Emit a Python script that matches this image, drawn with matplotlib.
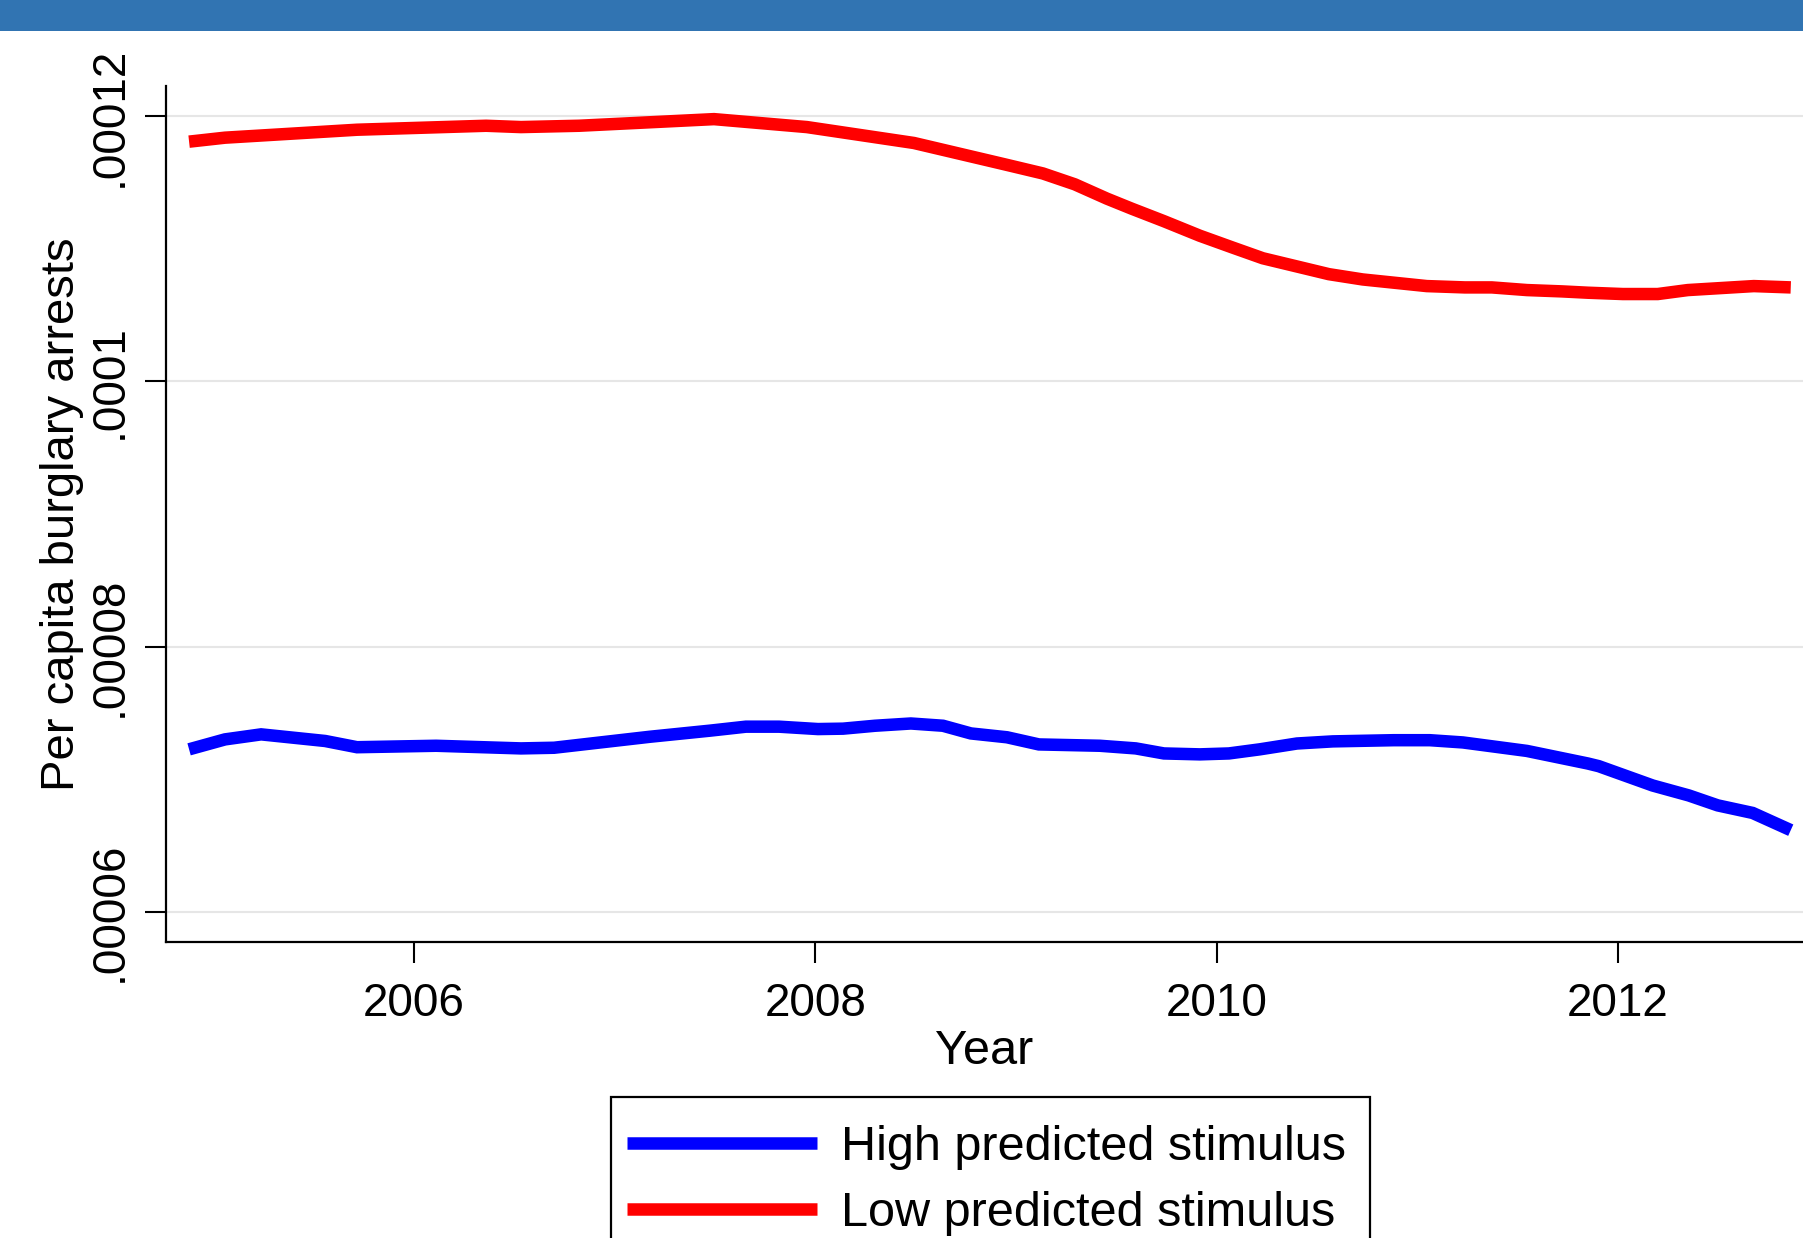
import matplotlib
matplotlib.use("Agg")
import matplotlib.pyplot as plt
from matplotlib.patches import Rectangle

plt.rcParams["font.family"] = ["Liberation Sans", "DejaVu Sans"]

# values
high_year = [2004.879, 2005.058, 2005.238, 2005.557, 2005.716, 2006.110, 2006.533,
             2006.698, 2007.176, 2007.475, 2007.654, 2007.819, 2008.013, 2008.138,
             2008.297, 2008.476, 2008.636, 2008.775, 2008.955, 2009.114, 2009.418,
             2009.597, 2009.737, 2009.916, 2010.061, 2010.215, 2010.400, 2010.579,
             2010.883, 2011.062, 2011.227, 2011.546, 2011.850, 2011.904, 2012.173,
             2012.353, 2012.497, 2012.671, 2012.861]
high_rate = [7.224e-5, 7.299e-5, 7.337e-5, 7.287e-5, 7.240e-5, 7.251e-5, 7.231e-5,
             7.236e-5, 7.319e-5, 7.365e-5, 7.395e-5, 7.395e-5, 7.377e-5, 7.380e-5,
             7.402e-5, 7.419e-5, 7.402e-5, 7.344e-5, 7.315e-5, 7.261e-5, 7.251e-5,
             7.231e-5, 7.193e-5, 7.186e-5, 7.193e-5, 7.224e-5, 7.268e-5, 7.284e-5,
             7.293e-5, 7.293e-5, 7.276e-5, 7.212e-5, 7.117e-5, 7.097e-5, 6.951e-5,
             6.876e-5, 6.801e-5, 6.744e-5, 6.614e-5]

low_year = [2004.879, 2005.058, 2005.716, 2006.359, 2006.533, 2006.822, 2007.495,
            2007.958, 2008.491, 2008.940, 2009.134, 2009.293, 2009.453, 2009.577,
            2009.737, 2009.916, 2010.081, 2010.230, 2010.559, 2010.728, 2011.047,
            2011.237, 2011.371, 2011.546, 2011.720, 2011.850, 2012.024, 2012.198,
            2012.348, 2012.677, 2012.861]
low_rate = [1.181e-4, 1.184e-4, 1.190e-4, 1.193e-4, 1.192e-4, 1.193e-4, 1.198e-4,
            1.192e-4, 1.180e-4, 1.164e-4, 1.157e-4, 1.1488e-4, 1.1380e-4, 1.1304e-4,
            1.1210e-4, 1.110e-4, 1.101e-4, 1.093e-4, 1.081e-4, 1.077e-4, 1.072e-4,
            1.071e-4, 1.071e-4, 1.069e-4, 1.068e-4, 1.067e-4, 1.066e-4, 1.066e-4,
            1.069e-4, 1.072e-4, 1.071e-4]

x_ticks = [2006, 2008, 2010, 2012]
y_ticks = [0.00006, 0.00008, 0.0001, 0.00012]
y_tick_labels = [".00006", ".00008", ".0001", ".00012"]

W, H = 1803, 1238
fig = plt.figure(figsize=(W / 100, H / 100), dpi=100)

# blue banner across the top
fig.patches.append(Rectangle((0, 1 - 31 / H), 1, 31 / H, transform=fig.transFigure,
                             facecolor="#3174b2", edgecolor="none", zorder=0))

ax = fig.add_axes([166 / W, 1 - 942 / H, 1 - 166 / W, (942 - 86) / H])

ax.plot(high_year, high_rate, color="#0000ff", lw=9, solid_capstyle="butt",
        solid_joinstyle="miter", label="High predicted stimulus")
ax.plot(low_year, low_rate, color="#ff0000", lw=9, solid_capstyle="butt",
        solid_joinstyle="miter", label="Low predicted stimulus")

ax.set_xlim(2004.764, 2012.922)
ax.set_ylim(0.0000577, 0.0001223)

ax.set_xticks(x_ticks)
ax.set_xticklabels([str(t) for t in x_ticks])
ax.set_yticks(y_ticks)
ax.set_yticklabels(y_tick_labels, rotation=90, va="center")

ax.tick_params(axis="both", direction="out", length=15, width=1.5, labelsize=33)
ax.tick_params(axis="x", pad=14)
ax.tick_params(axis="y", pad=10)
ax.grid(axis="y", color="#e6e6e6", lw=1.5)
ax.set_axisbelow(True)

for side in ["top", "right"]:
    ax.spines[side].set_visible(False)
for side in ["left", "bottom"]:
    ax.spines[side].set_linewidth(1.6)

ax.set_xlabel("Year", fontsize=35, labelpad=2)
ax.set_ylabel("Per capita burglary arrests", fontsize=34, labelpad=2)

# legend box (runs off the bottom of the picture, as in the original)
fig.patches.append(Rectangle((611 / W, -0.1), (1370 - 611) / W, 0.1 + 1 - 1097 / H,
                             transform=fig.transFigure, facecolor="white",
                             edgecolor="black", lw=1.6, zorder=1))
leg = fig.legend(loc="upper left", bbox_to_anchor=(627 / W, 1 - 1125 / H),
                 fontsize=35, frameon=False, handlelength=3.9,
                 handletextpad=0.5, labelspacing=0.44, borderpad=0, borderaxespad=0)

fig.savefig("out.png", dpi=100)
